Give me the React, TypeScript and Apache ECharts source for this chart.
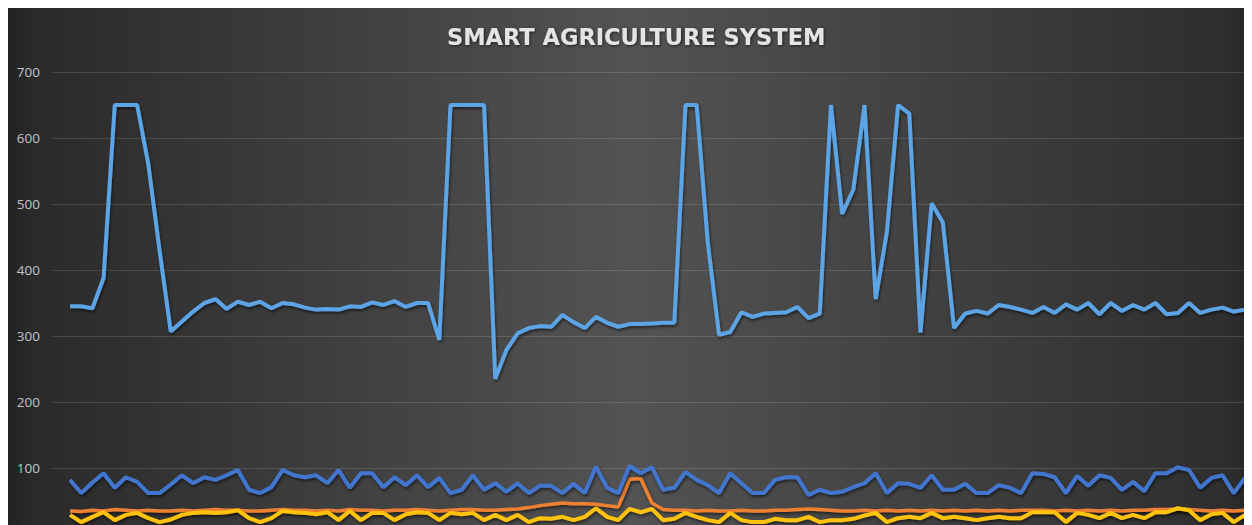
import React, { useEffect, useRef } from "react";
import * as echarts from "echarts";

// Sensor readings (106 samples)
const lightBlue = [
  345, 345, 342, 388, 650, 650, 650, 560, 430, 307,
  322, 337, 350, 356, 341, 352, 347, 352, 342, 350,
  348, 343, 340, 341, 340, 345, 344, 351, 347, 353,
  344, 350, 350, 294, 650, 650, 650, 650, 235, 279,
  304, 312, 315, 314, 332, 321, 312, 329, 320, 314,
  318, 318, 319, 320, 320, 650, 650, 440, 302, 306,
  336, 329, 334, 335, 336, 344, 327, 334, 650, 485,
  522, 650, 356, 458, 650, 637, 305, 501, 472, 312,
  334, 338, 334, 347, 344, 340, 335, 344, 335, 348,
  340, 350, 333, 350, 338, 347, 340, 350, 333, 335,
  350, 335, 340, 343, 337, 340,
];

const orange = [
  35, 34, 36, 35, 37, 36, 35, 36, 35, 35,
  36, 35, 36, 37, 36, 36, 35, 35, 36, 37,
  36, 36, 35, 36, 35, 37, 36, 36, 35, 36,
  36, 37, 36, 35, 36, 37, 37, 36, 36, 37,
  38, 40, 43, 45, 47, 46, 46, 45, 43, 41,
  83, 84, 47, 37, 36, 36, 35, 36, 35, 35,
  36, 35, 35, 36, 36, 37, 38, 37, 36, 35,
  35, 36, 35, 36, 35, 36, 35, 36, 35, 36,
  35, 36, 35, 36, 35, 36, 36, 36, 35, 36,
  35, 36, 35, 36, 35, 36, 36, 37, 37, 38,
  37, 36, 35, 36, 35, 36,
];

const gray = [
  31, 31, 31, 31, 31, 31, 31, 31, 31, 31,
  31, 31, 31, 31, 31, 31, 31, 31, 31, 31,
  31, 31, 31, 31, 31, 31, 31, 31, 31, 31,
  31, 31, 31, 31, 31, 31, 31, 31, 31, 31,
  31, 31, 31, 31, 31, 31, 31, 31, 31, 31,
  31, 31, 31, 31, 31, 31, 31, 31, 31, 31,
  31, 31, 31, 31, 31, 31, 31, 31, 31, 31,
  31, 31, 31, 31, 31, 31, 31, 31, 31, 31,
  31, 31, 31, 31, 31, 31, 31, 31, 31, 31,
  31, 31, 31, 31, 31, 31, 31, 31, 31, 31,
  31, 31, 31, 31, 31, 31,
];

const yellow = [
  29, 18, 26, 33, 21, 29, 32, 24, 18, 22,
  29, 32, 33, 32, 33, 36, 24, 18, 24, 35,
  33, 32, 30, 33, 21, 35, 21, 32, 32, 21,
  30, 33, 32, 21, 32, 30, 32, 21, 29, 21,
  29, 18, 24, 23, 26, 21, 26, 39, 26, 21,
  38, 33, 38, 21, 23, 32, 26, 21, 18, 32,
  21, 18, 18, 23, 21, 21, 26, 18, 21, 21,
  23, 28, 32, 18, 24, 26, 24, 32, 24, 26,
  24, 21, 24, 26, 24, 24, 33, 33, 33, 18,
  32, 29, 24, 32, 24, 29, 24, 33, 33, 39,
  36, 21, 30, 32, 18, 29,
];

const blue = [
  82, 62, 78, 92, 70, 86, 79, 62, 62, 75,
  89, 77, 86, 82, 89, 97, 67, 62, 71, 97,
  89, 86, 89, 77, 97, 70, 92, 92, 71, 86,
  74, 89, 71, 85, 62, 67, 89, 67, 77, 64,
  77, 62, 73, 73, 62, 76, 62, 102, 70, 62,
  103, 92, 101, 67, 70, 94, 82, 74, 62, 92,
  77, 62, 62, 82, 86, 86, 59, 67, 62, 64,
  71, 77, 92, 62, 77, 76, 70, 89, 67, 67,
  76, 62, 62, 74, 70, 62, 92, 91, 86, 62,
  88, 73, 89, 85, 67, 79, 65, 92, 92, 101,
  97, 70, 85, 89, 62, 85,
];

const samples = lightBlue.map((_, i) => i);
const yTicks = [0, 100, 200, 300, 400, 500, 600, 700];

const seriesDefs = [
  { name: "Series 1", data: lightBlue, color: "#5CA4E6", width: 4 },
  { name: "Series 2", data: orange, color: "#EE8033", width: 3.5 },
  { name: "Series 3", data: gray, color: "#B8B8B8", width: 4 },
  { name: "Series 4", data: yellow, color: "#FFC20E", width: 4 },
  { name: "Series 5", data: blue, color: "#4276CE", width: 4 },
];

export default function App() {
  const ref = useRef<HTMLDivElement>(null);
  useEffect(() => {
    document.documentElement.style.overflow = "hidden";
    document.body.style.overflow = "hidden";
    const chart = echarts.init(ref.current!, undefined, { renderer: "svg" });
    chart.setOption({
      animation: false,
      backgroundColor: {
        type: "linear",
        x: 0,
        y: 0,
        x2: 1,
        y2: 0,
        colorStops: [
          { offset: 0, color: "#222222" },
          { offset: 0.02, color: "#2a2a2a" },
          { offset: 0.5, color: "#535353" },
          { offset: 0.98, color: "#2e2e2e" },
          { offset: 1, color: "#262626" },
        ],
      },
      title: {
        text: "SMART AGRICULTURE SYSTEM",
        left: 439,
        top: 17,
        padding: 0,
        textStyle: {
          fontFamily: "DejaVu Sans",
          fontWeight: "bold",
          fontSize: 22.5,
          color: "#e4e4e4",
          textShadowColor: "rgba(0,0,0,0.6)",
          textShadowBlur: 3,
          textShadowOffsetX: 1,
          textShadowOffsetY: 1,
        },
      },
      grid: { left: 44, right: 4, top: 64, bottom: 14 },
      xAxis: {
        type: "value",
        min: -1.61,
        max: 105.27,
        show: false,
      },
      yAxis: {
        type: "value",
        min: yTicks[0],
        max: yTicks[yTicks.length - 1],
        interval: 100,
        axisLine: { show: false },
        axisTick: { show: false },
        axisLabel: {
          showMinLabel: false,
          color: "#c4c4c4",
          fontFamily: "Open Sans",
          fontSize: 13.5,
          margin: 12,
        },
        splitLine: { lineStyle: { color: "rgba(255,255,255,0.13)", width: 1 } },
      },
      series: seriesDefs.map((s) => ({
        name: s.name,
        type: "line",
        data: s.data.map((v, i) => [samples[i], v]),
        showSymbol: false,
        symbol: "none",
        lineStyle: {
          color: s.color,
          width: s.width,
          shadowColor: "rgba(0,0,0,0.55)",
          shadowBlur: 3,
          shadowOffsetX: 1,
          shadowOffsetY: 2,
        },
        itemStyle: { color: s.color },
      })),
    });
    return () => chart.dispose();
  }, []);
  return <div ref={ref} style={{ width: 1244, height: 540 }} />;
}
